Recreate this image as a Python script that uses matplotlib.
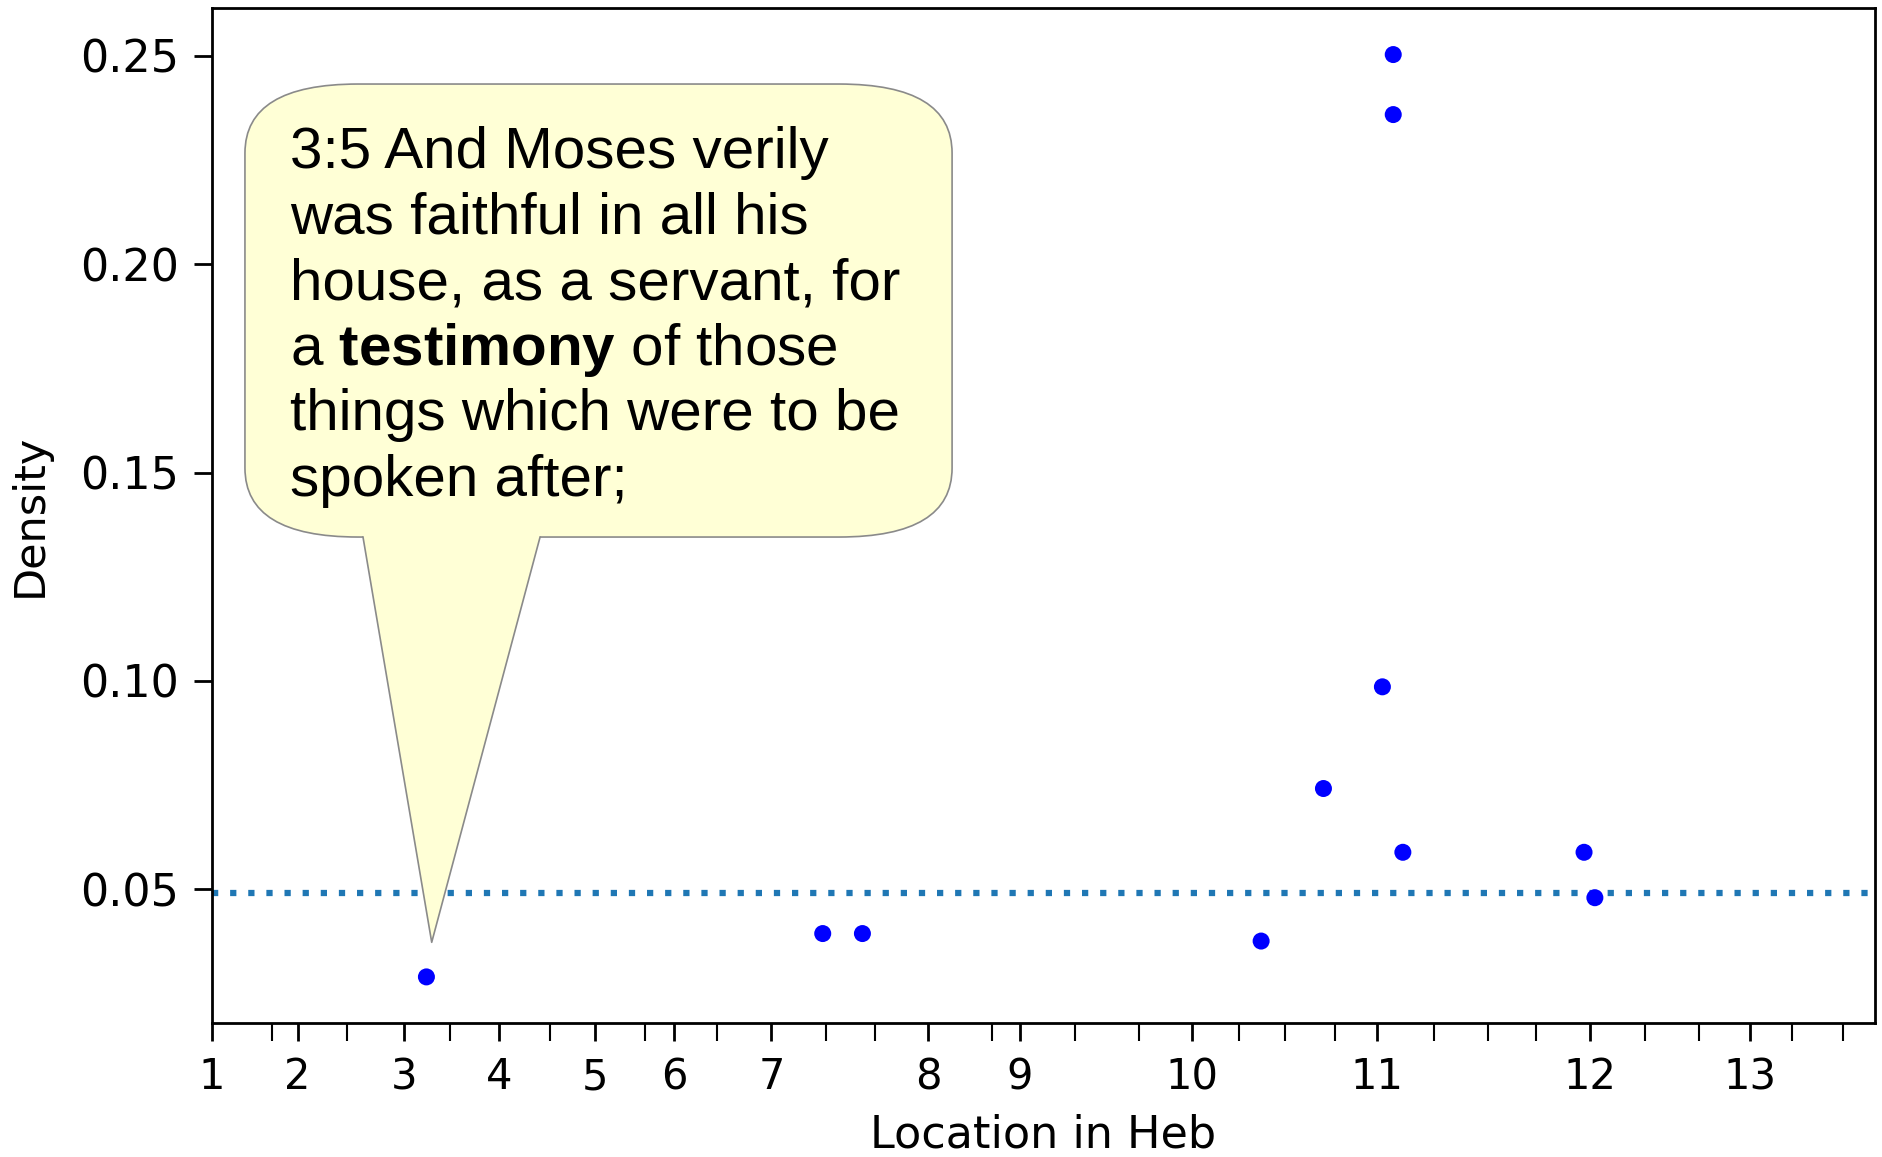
import matplotlib
matplotlib.use('Agg')
import matplotlib.pyplot as plt
from matplotlib.patches import FancyBboxPatch, Polygon

# x axis is a running word offset through the book
chapter_labels = ['1', '2', '3', '4', '5', '6', '7', '8', '9', '10', '11', '12', '13']
chapter_starts = [0, 356, 798, 1193, 1592, 1920, 2325, 2976, 3356, 4072, 4843, 5728, 6393]
book_end = 6910
# verse 10 / 20 / 30 of each chapter
verse_marks = [249, 562, 991, 1403, 1800, 2100, 2553, 2757, 3242, 3587, 3853,
               4266, 4460, 4665, 5077, 5303, 5502, 5954, 6180, 6566, 6778]

locations = [891, 2538, 2703, 4360, 4619, 4864, 4909, 4909, 4949, 5702, 5747]
density = [0.0290, 0.0394, 0.0394, 0.0376, 0.0742, 0.0986, 0.2503, 0.2359, 0.0589, 0.0589, 0.0480]
mean_density = 0.0491

highlight = 0  # index of the point the bubble points at
verse_lines = ['3:5 And Moses verily',
               'was faithful in all his',
               'house, as a servant, for',
               r'a $\mathbf{testimony}$ of those',
               'things which were to be',
               'spoken after;']

plt.rcParams['mathtext.fontset'] = 'custom'
plt.rcParams['mathtext.rm'] = 'Liberation Sans'
plt.rcParams['mathtext.bf'] = 'Liberation Sans:bold'

fig = plt.figure(figsize=(18.83, 11.57), dpi=100)
ax = fig.add_axes([0.1126, 0.1158, 0.8830, 0.8769])

ax.scatter(locations, density, s=150, color='blue', edgecolors='none', zorder=3)
ax.axhline(mean_density, color='#1f77b4', lw=4.5, linestyle=(0, (1.0, 1.9)))

ax.set_xlim(0, book_end)
ax.set_ylim(ax.get_ylim())
ax.set_xticks(chapter_starts, labels=chapter_labels)
ax.set_xticks(verse_marks, minor=True)
ax.set_yticks([0.05, 0.10, 0.15, 0.20, 0.25])

ax.tick_params(axis='both', which='major', length=13, width=2, pad=11)
ax.tick_params(axis='x', which='major', labelsize=30)
ax.tick_params(axis='y', which='major', labelsize=32)
ax.tick_params(axis='x', which='minor', length=13, width=1.5)
for sp in ax.spines.values():
    sp.set_linewidth(2)

ax.set_xlabel('Location in Heb', fontsize=32, labelpad=11)
ax.set_ylabel('Density', fontsize=31, labelpad=21)

# speech bubble (axes coordinates)
x0, x1, y0, y1 = 0.0198, 0.4451, 0.479, 0.9255
fill = '#ffffd6'
edge = '#8a8a8a'
box = FancyBboxPatch((x0, y0), x1 - x0, y1 - y0, boxstyle='round,pad=0,rounding_size=0.068',
                     transform=ax.transAxes, facecolor=fill, edgecolor=edge, lw=1.2, zorder=4)
ax.add_patch(box)
tip = ax.transLimits.transform((locations[highlight] + 22, density[highlight] + 0.0083))
bl, br = (0.0908, y0), (0.1973, y0)
tail = Polygon([(bl[0], y0 + 0.004), bl, tip, br, (br[0], y0 + 0.004)], closed=True,
               transform=ax.transAxes, facecolor=fill, edgecolor='none', zorder=5)
ax.add_patch(tail)
ax.plot([bl[0], tip[0], br[0]], [bl[1], tip[1], br[1]], transform=ax.transAxes,
        color=edge, lw=1.2, zorder=6)

baseline = 0.8427
for line in verse_lines:
    ax.text(0.0469, baseline, line, transform=ax.transAxes, fontsize=42,
            family='Liberation Sans', va='baseline', ha='left', zorder=7)
    baseline -= 0.06466

fig.savefig('out.png', dpi=100)
